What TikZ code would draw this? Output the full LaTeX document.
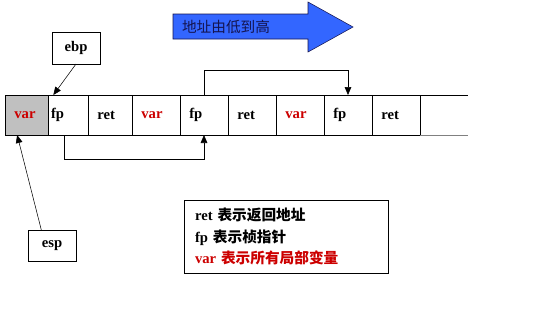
\documentclass[tikz,border=0pt]{standalone}
\usepackage{fontspec}
\setmainfont{Liberation Serif}
\newfontfamily\cjk{Noto Sans CJK SC}
\usetikzlibrary{positioning, arrows.meta}
\definecolor{varred}{RGB}{204,0,0}
\definecolor{dirblue}{RGB}{51,102,255}
\definecolor{dirnavy}{RGB}{20,20,80}
\definecolor{cellgray}{RGB}{192,192,192}

\begin{document}
\begin{tikzpicture}[x=0.75pt, y=-0.75pt,
    cell/.style={rectangle, draw, outer sep=0pt,
                 minimum height=30pt, inner xsep=7pt,
                 text width=22pt, align=left,
                 font=\fontsize{11}{13}\selectfont\bfseries},
    regbox/.style={rectangle, draw, outer sep=0pt,
                   minimum width=36pt, minimum height=24pt,
                   font=\fontsize{11}{13}\selectfont\bfseries},
    arrow/.style={-{Triangle[length=6pt, width=5pt]}},
    vartext/.style={text=varred}
]
    \useasboundingbox (0,0) rectangle (553,325);

    % stack cells
    \node[cell, anchor=west, fill=cellgray, vartext, text width=18.25pt] (c1) at (5,115) {var};
    \node[cell, right=0pt of c1, inner xsep=2.25pt, text width=25.5pt] (c2) {fp};
    \node[cell, right=0pt of c2, text width=19pt] (c3) {ret};
    \node[cell, right=0pt of c3, vartext] (c4) {var};
    \node[cell, right=0pt of c4] (c5) {fp};
    \node[cell, right=0pt of c5] (c6) {ret};
    \node[cell, right=0pt of c6, vartext] (c7) {var};
    \node[cell, right=0pt of c7] (c8) {fp};
    \node[cell, right=0pt of c8] (c9) {ret};
    \draw (c9.north east) -- ++(48,0);
    \draw[gray] (c9.south east) -- ++(48,0);

    % registers
    \node[regbox] (ebp) at (76,48) {ebp};
    \node[regbox, minimum height=23.25pt] (esp) at (52,245.5) {esp};
    \draw[arrow] (ebp.south) -- ([xshift=4pt]c2.north west);
    \draw[arrow] ([xshift=-8pt]esp.north) -- ([xshift=-7pt]c1.south);

    % saved frame pointers
    \draw[arrow] ([xshift=-3pt]c2.south) -- ++(0,24) -| (c5.south);
    \draw[arrow] (c5.north) -- ++(0,-25) -| (c8.north);

    % direction
    \draw[draw=dirnavy, fill=dirblue] (173,14) -- (308,14) -- (308,2) -- (353,27)
        -- (308,52) -- (308,39) -- (173,39) -- cycle;
    \node[text=dirnavy, font=\fontsize{11}{12}\cjk] (dir) at (226,27) {地址由低到高};

    % legend
    \node[rectangle, draw, minimum width=153pt, minimum height=54.75pt,
        inner xsep=8.25pt, text width=136.5pt, align=left,
        font=\fontsize{11}{16}\selectfont\bfseries] (legend) at (286,236.5)
        {ret {\cjk 表示返回地址}\\
         fp {\cjk 表示桢指针}\\
         \textcolor{varred}{var {\cjk 表示所有局部变量}}};

\end{tikzpicture}
\end{document}
